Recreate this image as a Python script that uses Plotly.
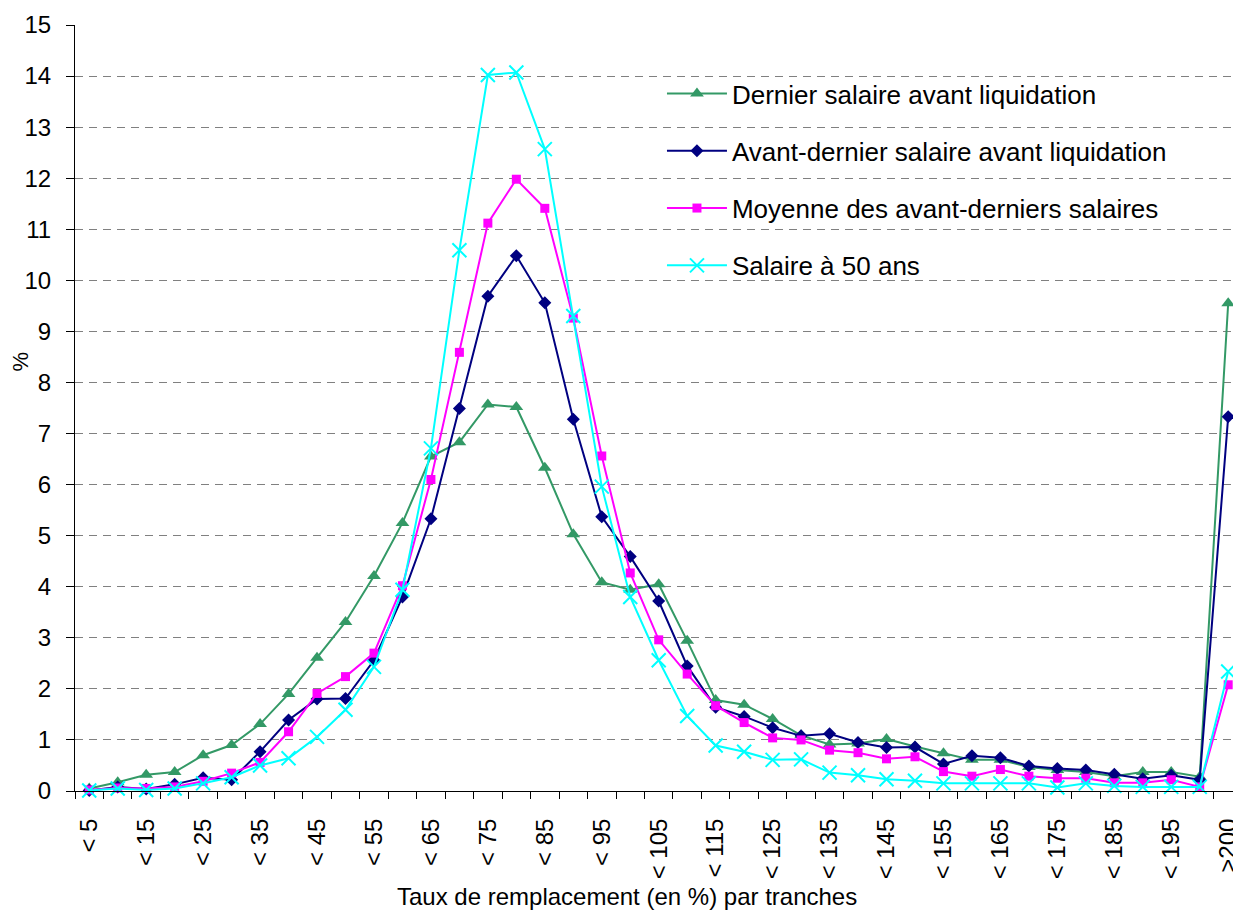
import plotly.graph_objects as go

categories = ["< %d" % v for v in range(5, 201, 5)] + [">200"]

dernier = [0.05, 0.17, 0.32, 0.37, 0.70, 0.90, 1.31, 1.90, 2.61, 3.31, 4.21, 5.25, 6.55, 6.83,
           7.57, 7.52, 6.33, 5.03, 4.09, 3.94, 4.05, 2.94, 1.78, 1.69, 1.41, 1.09, 0.91, 0.93,
           1.02, 0.87, 0.74, 0.61, 0.61, 0.47, 0.41, 0.37, 0.29, 0.37, 0.37, 0.28, 9.55]
avant_dernier = [0.01, 0.08, 0.04, 0.13, 0.26, 0.22, 0.77, 1.39, 1.80, 1.81, 2.56, 3.80, 5.33, 7.49,
                 9.69, 10.48, 9.56, 7.28, 5.37, 4.59, 3.72, 2.45, 1.64, 1.46, 1.24, 1.08, 1.12, 0.95,
                 0.85, 0.86, 0.53, 0.69, 0.65, 0.49, 0.44, 0.41, 0.33, 0.24, 0.31, 0.22, 7.33]
moyenne = [0.02, 0.06, 0.05, 0.08, 0.19, 0.35, 0.56, 1.16, 1.91, 2.24, 2.70, 4.02, 6.10, 8.59,
           11.12, 11.98, 11.41, 9.26, 6.56, 4.27, 2.96, 2.29, 1.67, 1.34, 1.04, 1.00, 0.80, 0.75,
           0.63, 0.67, 0.38, 0.29, 0.42, 0.29, 0.25, 0.25, 0.16, 0.16, 0.22, 0.08, 2.08]
salaire50 = [0.01, 0.05, 0.02, 0.05, 0.15, 0.27, 0.50, 0.64, 1.06, 1.59, 2.43, 3.94, 6.71, 10.59,
             14.02, 14.07, 12.57, 9.30, 5.96, 3.80, 2.56, 1.47, 0.89, 0.77, 0.61, 0.62, 0.36, 0.31,
             0.23, 0.20, 0.15, 0.15, 0.15, 0.15, 0.07, 0.15, 0.10, 0.08, 0.08, 0.08, 2.34]

series_names = ["Dernier salaire avant liquidation",
                "Avant-dernier salaire avant liquidation",
                "Moyenne des avant-derniers salaires",
                "Salaire à 50 ans"]

x_idx = list(range(len(categories)))
tick_idx = x_idx[::2]
tick_txt = [categories[i] for i in tick_idx]

FONT = "Liberation Sans, Arial, sans-serif"

fig = go.Figure()
styles = [
    (dernier, "#339966", dict(symbol="triangle-up", size=12, color="#339966")),
    (avant_dernier, "#000080", dict(symbol="diamond", size=10, color="#000080")),
    (moyenne, "#FF00FF", dict(symbol="square", size=9, color="#FF00FF")),
    (salaire50, "#00FFFF", dict(symbol="x-thin", size=14, color="#00FFFF",
                                line=dict(color="#00FFFF", width=2))),
]
for k, (vals, col, mk) in enumerate(styles):
    fig.add_trace(go.Scatter(
        x=x_idx, y=vals, mode="lines+markers", name=series_names[k],
        line=dict(color=col, width=2), marker=mk, cliponaxis=False,
        legendgroup="g%d" % k,
    ))

fig.update_layout(
    width=1233, height=902,
    margin=dict(l=67, r=0, t=17, b=119),
    paper_bgcolor="white", plot_bgcolor="white",
    font=dict(family=FONT, size=22, color="black"),
    showlegend=True,
    legend=dict(x=0.5034, y=0.9412, xanchor="left", yanchor="top",
                bgcolor="rgba(0,0,0,0)", font=dict(size=26, family=FONT),
                tracegroupgap=20.5, itemwidth=60, traceorder="grouped"),
    xaxis=dict(
        range=[-0.5, 40.45], tickmode="array", tickvals=tick_idx, ticktext=tick_txt,
        tickangle=-90, ticks="", showgrid=False, zeroline=False,
        showline=True, linecolor="black", linewidth=1, automargin=False,
        tickfont=dict(size=24, family=FONT), ticklabelstandoff=17,
        ticklabeloverflow="allow",
        minor=dict(tickmode="array", tickvals=[i - 0.5 for i in range(len(categories) + 1)],
                   ticks="outside", ticklen=7, tickcolor="black", tickwidth=1, showgrid=False),
    ),
    yaxis=dict(
        range=[0, 15], dtick=1, tick0=0, ticks="outside", ticklen=8, tickcolor="black",
        showline=True, linecolor="black", linewidth=1, zeroline=False,
        showgrid=True, gridcolor="#808080", gridwidth=1, griddash="8px,6px",
        tickfont=dict(size=24, family=FONT), ticklabelstandoff=10,
    ),
)

fig.add_annotation(text="Taux de remplacement (en %) par tranches", xref="paper", yref="paper",
                   x=0.473, y=-0.138, xanchor="center", yanchor="middle", showarrow=False,
                   font=dict(size=24, family=FONT))
fig.add_annotation(text="%", xref="paper", yref="paper", x=-0.047, y=0.561,
                   xanchor="center", yanchor="middle", showarrow=False, textangle=-90,
                   font=dict(size=22, family=FONT))

fig.write_html("out.html")
